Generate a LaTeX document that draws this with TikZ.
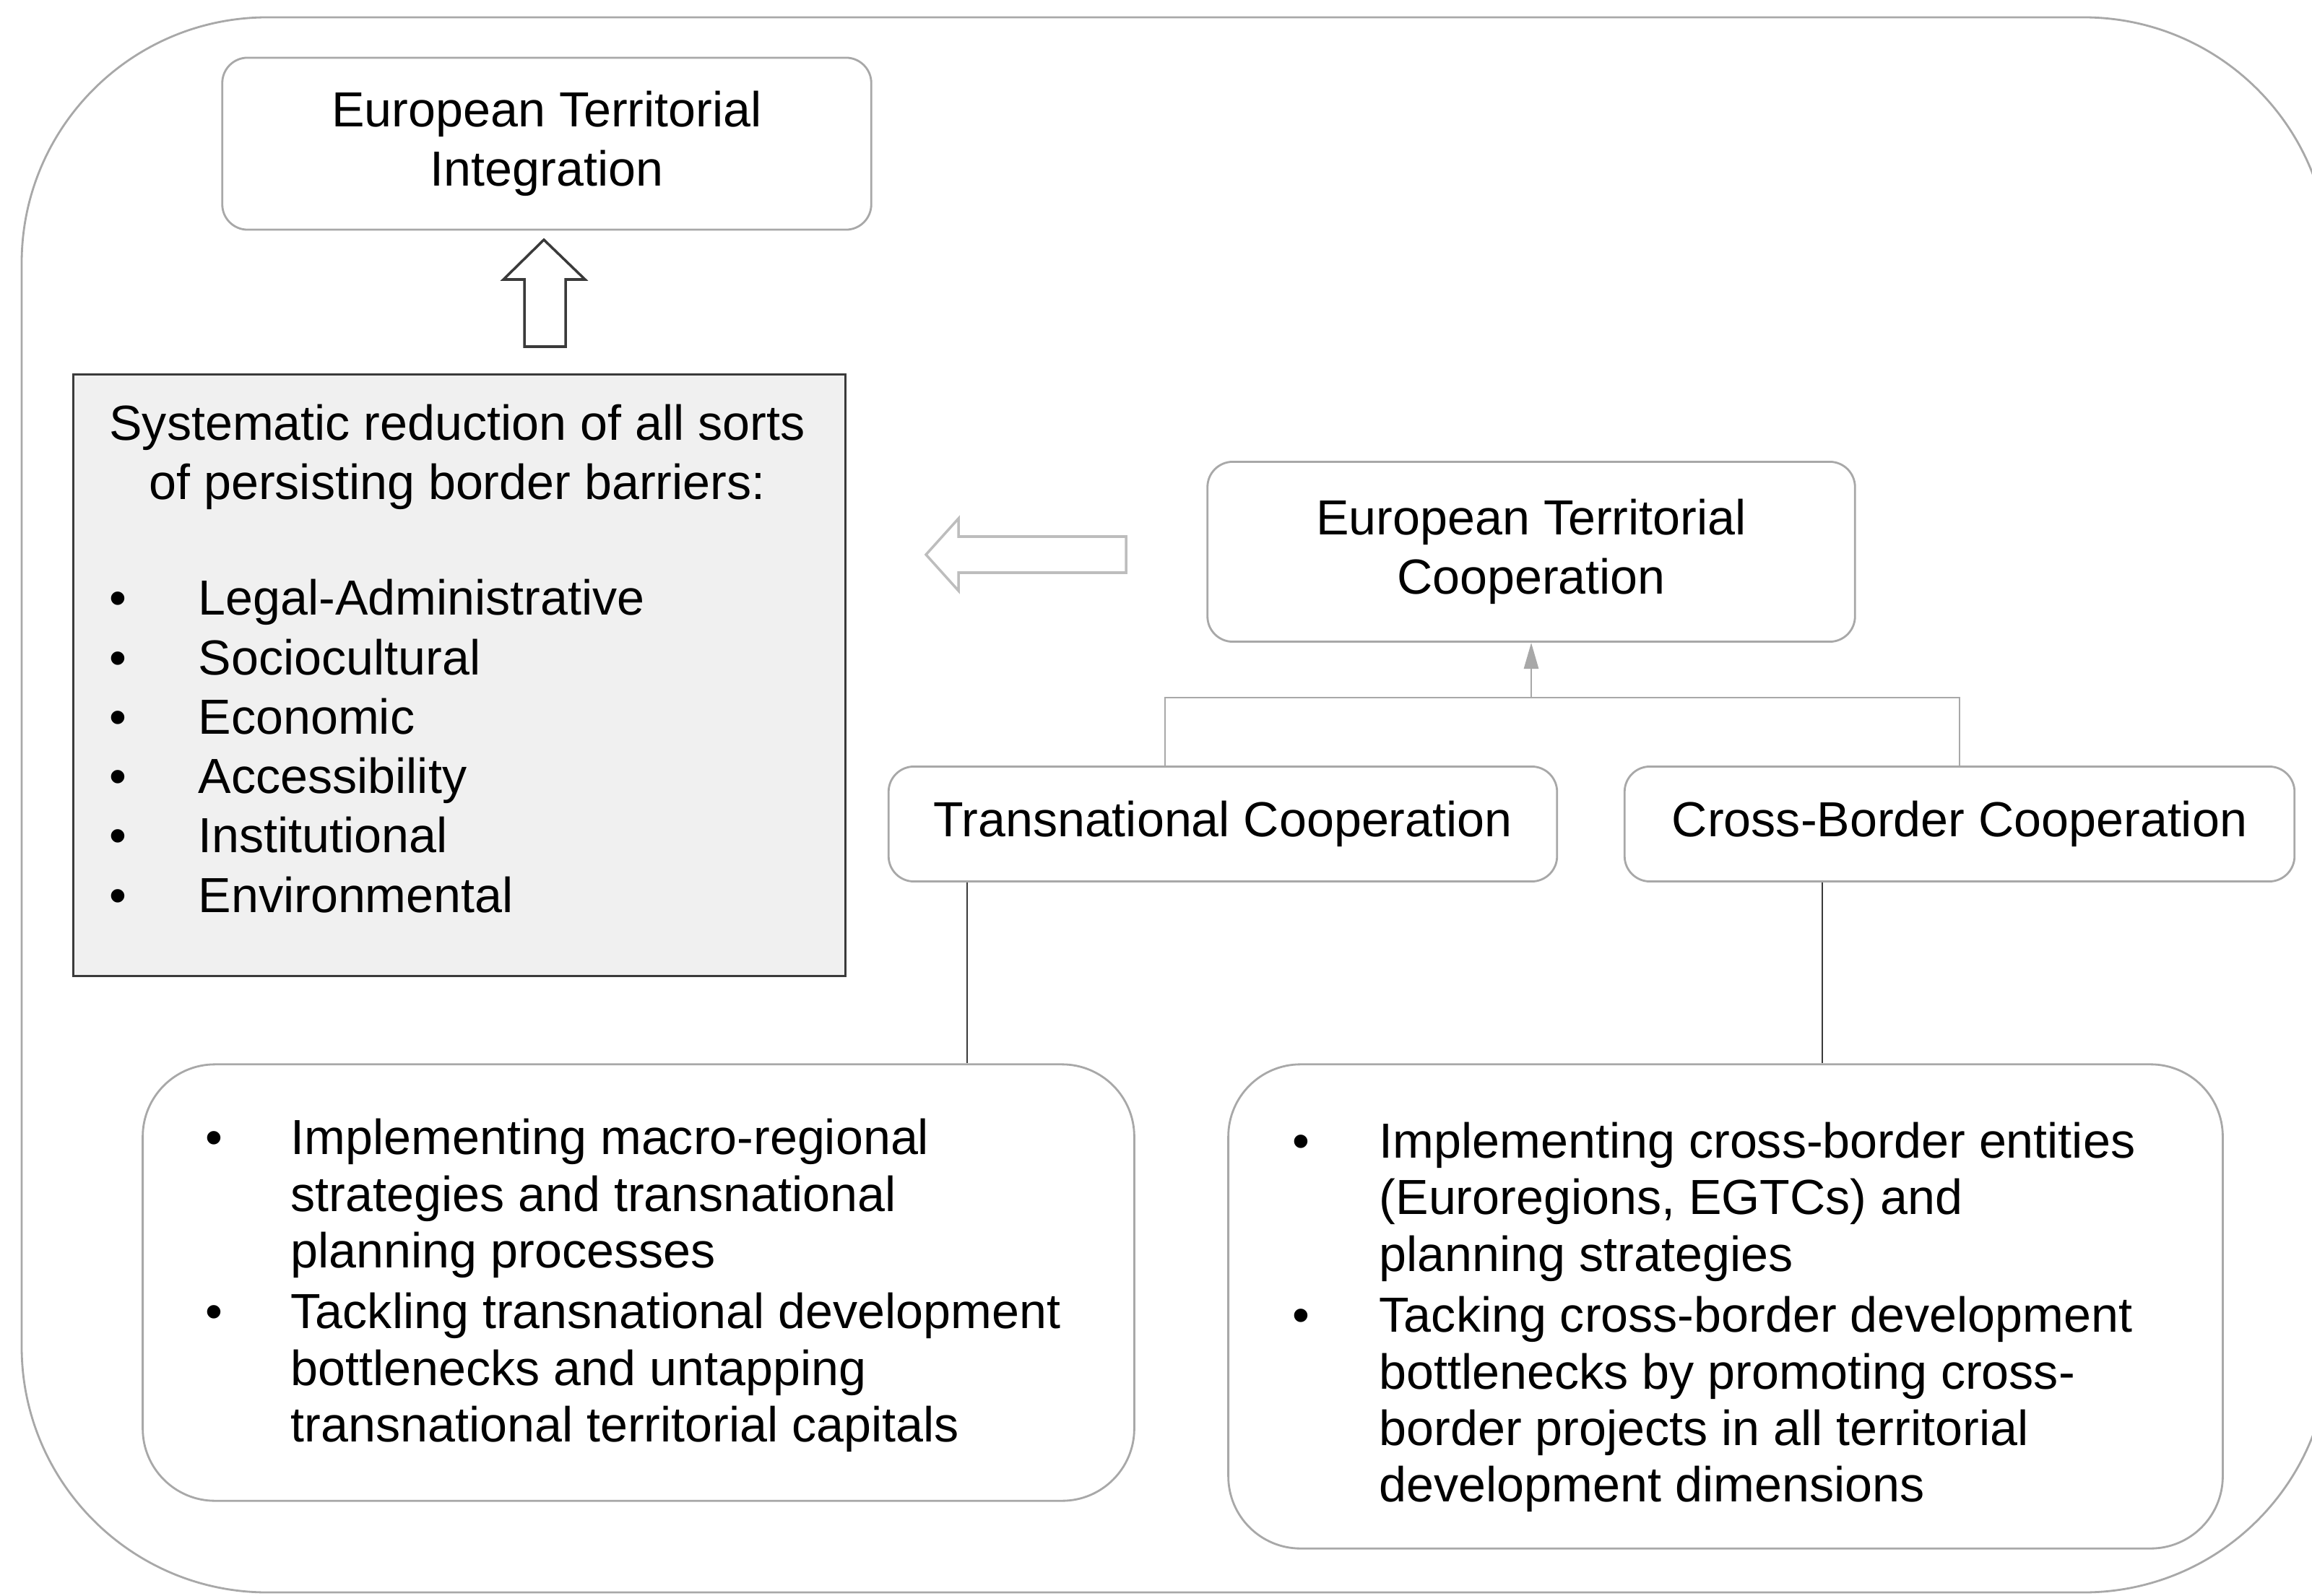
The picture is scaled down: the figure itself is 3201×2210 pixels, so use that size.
\documentclass[tikz,border=0pt]{standalone}
\usepackage{fontspec}
\setmainfont{Liberation Sans}
\usetikzlibrary{arrows.meta}
\definecolor{framegray}{HTML}{A8A8A8}
\definecolor{boxfill}{HTML}{F0F0F0}
\definecolor{darkline}{HTML}{3A3A3A}
\definecolor{arrowgray}{HTML}{BDBDBD}
\newcommand{\bigfont}{\fontsize{19.4}{23.4}\selectfont}
\newcommand{\listfont}{\fontsize{19.4}{22.3}\selectfont}
\tikzset{
  roundbox/.style={draw=framegray, line width=0.8pt, rounded corners=0.35cm, align=center, font=\bigfont, inner sep=0pt},
  listbox/.style={draw=framegray, line width=0.8pt, rounded corners=1cm},
  wire/.style={draw=framegray, line width=0.8pt},
  link/.style={draw=darkline, line width=0.8pt},
  txt/.style={inner sep=0pt, font=\bigfont}
}
\begin{document}
\begin{tikzpicture}[x=0.01cm, y=-0.01cm]
    \useasboundingbox (0,0) rectangle (3201,2210);
    \draw[wire, rounded corners=3.4cm] (30,24) rectangle (3225,2205);

    \node[roundbox, minimum width=8.98cm, minimum height=2.38cm] (eti) at (757,199) {European Territorial\\Integration};
    \node[draw=darkline, line width=0.9pt, fill=boxfill, minimum width=10.68cm, minimum height=8.32cm] (barriers) at (636,935) {};
    \node[txt, align=center] (bartitle) at (633,633) {Systematic reduction of all sorts\\of persisting border barriers:};
    \node[txt, anchor=west] (barlist) at (151,1041) {\begin{tabular}{@{}p{1.23cm}@{}l@{}}
      \textbullet & Legal-Administrative\\
      \textbullet & Sociocultural\\
      \textbullet & Economic\\
      \textbullet & Accessibility\\
      \textbullet & Institutional\\
      \textbullet & Environmental
    \end{tabular}};

    \node[roundbox, minimum width=8.96cm, minimum height=2.49cm] (etc) at (2120,764) {European Territorial\\Cooperation};
    \node[roundbox, minimum width=9.25cm, minimum height=1.59cm] (tnc) at (1693,1141) {Transnational Cooperation};
    \node[roundbox, minimum width=9.27cm, minimum height=1.59cm] (cbc) at (2713,1141) {Cross-Border Cooperation};

    \node[listbox, minimum width=13.72cm, minimum height=6.04cm] (tnlist) at (884,1776) {};
    \node[listbox, minimum width=13.76cm, minimum height=6.70cm] (cblist) at (2389,1809) {};
    \node[txt, font=\listfont, anchor=west] (tnitems) at (284,1782) {\begin{tabular}{@{}p{1.18cm}@{}l@{}}
      \textbullet & Implementing macro-regional\\
      & strategies and transnational\\
      & planning processes\\[0.06cm]
      \textbullet & Tackling transnational development\\
      & bottlenecks and untapping\\
      & transnational territorial capitals
    \end{tabular}};
    \node[txt, font=\listfont, anchor=west] (cbitems) at (1789,1826) {\begin{tabular}{@{}p{1.2cm}@{}l@{}}
      \textbullet & Implementing cross-border entities\\
      & (Euroregions, EGTCs) and\\
      & planning strategies\\[0.06cm]
      \textbullet & Tacking cross-border development\\
      & bottlenecks by promoting cross-\\
      & border projects in all territorial\\
      & development dimensions
    \end{tabular}};

    \draw[darkline, line width=1pt] (726,480) -- (726,387) -- (697,387) -- (753,332) -- (810,387) -- (783,387) -- (783,480) -- cycle;
    \draw[arrowgray, line width=1pt] (1559,743) -- (1327,743) -- (1327,718) -- (1282,768) -- (1327,818) -- (1327,793) -- (1559,793) -- cycle;

    \coordinate (split) at (2120,966);
    \draw[wire] ([xshift=-0.8cm]tnc.north) |- (cbc.north |- split) -- (cbc.north);
    \draw[wire, -{Triangle[length=0.36cm, width=0.2cm]}] (split) -- (etc.south);

    \coordinate (tnfoot) at ([xshift=1.1cm]tnc.south west);
    \coordinate (cbfoot) at ([xshift=2.75cm]cbc.south west);
    \draw[link] (tnfoot) -- (tnfoot |- tnlist.north);
    \draw[link] (cbfoot) -- (cbfoot |- cblist.north);
\end{tikzpicture}
\end{document}
